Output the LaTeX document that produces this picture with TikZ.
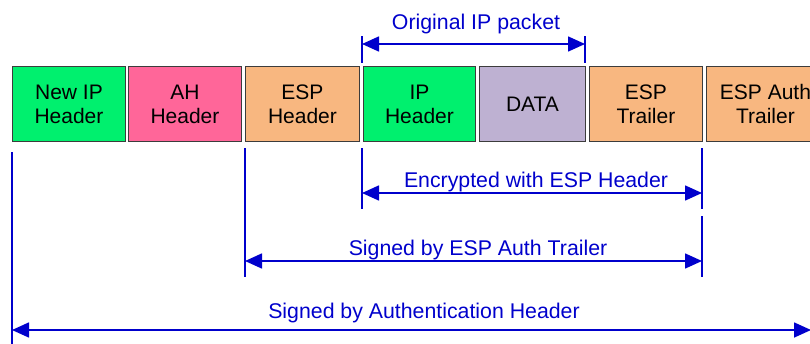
\documentclass[tikz,border=0pt]{standalone}
\usepackage{fontspec}
\setmainfont{Liberation Sans}
\usetikzlibrary{arrows.meta}
\definecolor{ipgreen}{RGB}{0,240,110}
\definecolor{ahpink}{RGB}{255,102,153}
\definecolor{esporange}{RGB}{248,183,128}
\definecolor{datapurple}{RGB}{190,177,210}
\definecolor{spanblue}{RGB}{0,0,204}
\definecolor{boxline}{RGB}{60,60,60}
\tikzset{
  field/.style={draw=boxline, line width=0.9pt, anchor=north west, inner sep=0pt,
    minimum height=75pt, align=center,
    font=\fontsize{21}{24}\selectfont, text=black},
  spanline/.style={draw=spanblue, line width=1.6pt},
  span/.style={spanline,
    {Triangle[length=17pt,width=15pt]}-{Triangle[length=17pt,width=15pt]}},
  spanlabel/.style={text=spanblue, inner sep=0pt, anchor=base,
    font=\fontsize{21.3}{24}\selectfont}
}
\begin{document}
\begin{tikzpicture}[x=1pt, y=-1pt]
  \useasboundingbox (0,0) rectangle (810,343);
  \clip (0,0) rectangle (810,343);

  % packet fields
  \node[field, fill=ipgreen,    minimum width=113pt] (newip)   at (12,66)  {New IP\\Header};
  \node[field, fill=ahpink,     minimum width=113pt] (ah)      at (128,66) {AH\\Header};
  \node[field, fill=esporange,  minimum width=114pt] (esph)    at (245,66) {ESP\\Header};
  \node[field, fill=ipgreen,    minimum width=112pt] (iph)     at (363,66) {IP\\Header};
  \node[field, fill=datapurple, minimum width=106pt] (data)    at (479,66) {DATA};
  \node[field, fill=esporange,  minimum width=113pt] (espt)    at (589,66) {ESP\\Trailer};
  \node[field, fill=esporange,  minimum width=118pt] (espauth) at (706,66) {ESP Auth\\Trailer};

  % original IP packet span above the fields
  \coordinate (opA) at (362,36);  \coordinate (opB) at (362,63);
  \coordinate (opC) at (585,36);  \coordinate (opD) at (585,63);
  \draw[spanline] (opA) -- (opB);
  \draw[spanline] (opC) -- (opD);
  \coordinate (opL) at (362,44);  \coordinate (opR) at (585,44);
  \draw[span] (opL) -- (opR);
  \node[spanlabel] (oplabel) at (476,29) {Original IP packet};

  % encrypted span
  \coordinate (enA) at (362,148); \coordinate (enB) at (362,209);
  \coordinate (enC) at (702,148); \coordinate (enD) at (702,209);
  \draw[spanline] (enA) -- (enB);
  \draw[spanline] (enC) -- (enD);
  \coordinate (enL) at (362,193); \coordinate (enR) at (702,193);
  \draw[span] (enL) -- (enR);
  \node[spanlabel] (enlabel) at (536,187) {Encrypted with ESP Header};

  % span signed by the ESP auth trailer
  \coordinate (saA) at (245,148); \coordinate (saB) at (245,277);
  \coordinate (saC) at (702,216); \coordinate (saD) at (702,277);
  \draw[spanline] (saA) -- (saB);
  \draw[spanline] (saC) -- (saD);
  \coordinate (saL) at (245,261); \coordinate (saR) at (702,261);
  \draw[span] (saL) -- (saR);
  \node[spanlabel] (salabel) at (478,255) {Signed by ESP Auth Trailer};

  % span signed by the authentication header
  \coordinate (ahA) at (12,152);  \coordinate (ahB) at (12,345);
  \draw[spanline] (ahA) -- (ahB);
  \coordinate (ahL) at (12,330);  \coordinate (ahR) at (811,330);
  \draw[span] (ahL) -- (ahR);
  \node[spanlabel] (ahlabel) at (424,318) {Signed by Authentication Header};
\end{tikzpicture}
\end{document}
